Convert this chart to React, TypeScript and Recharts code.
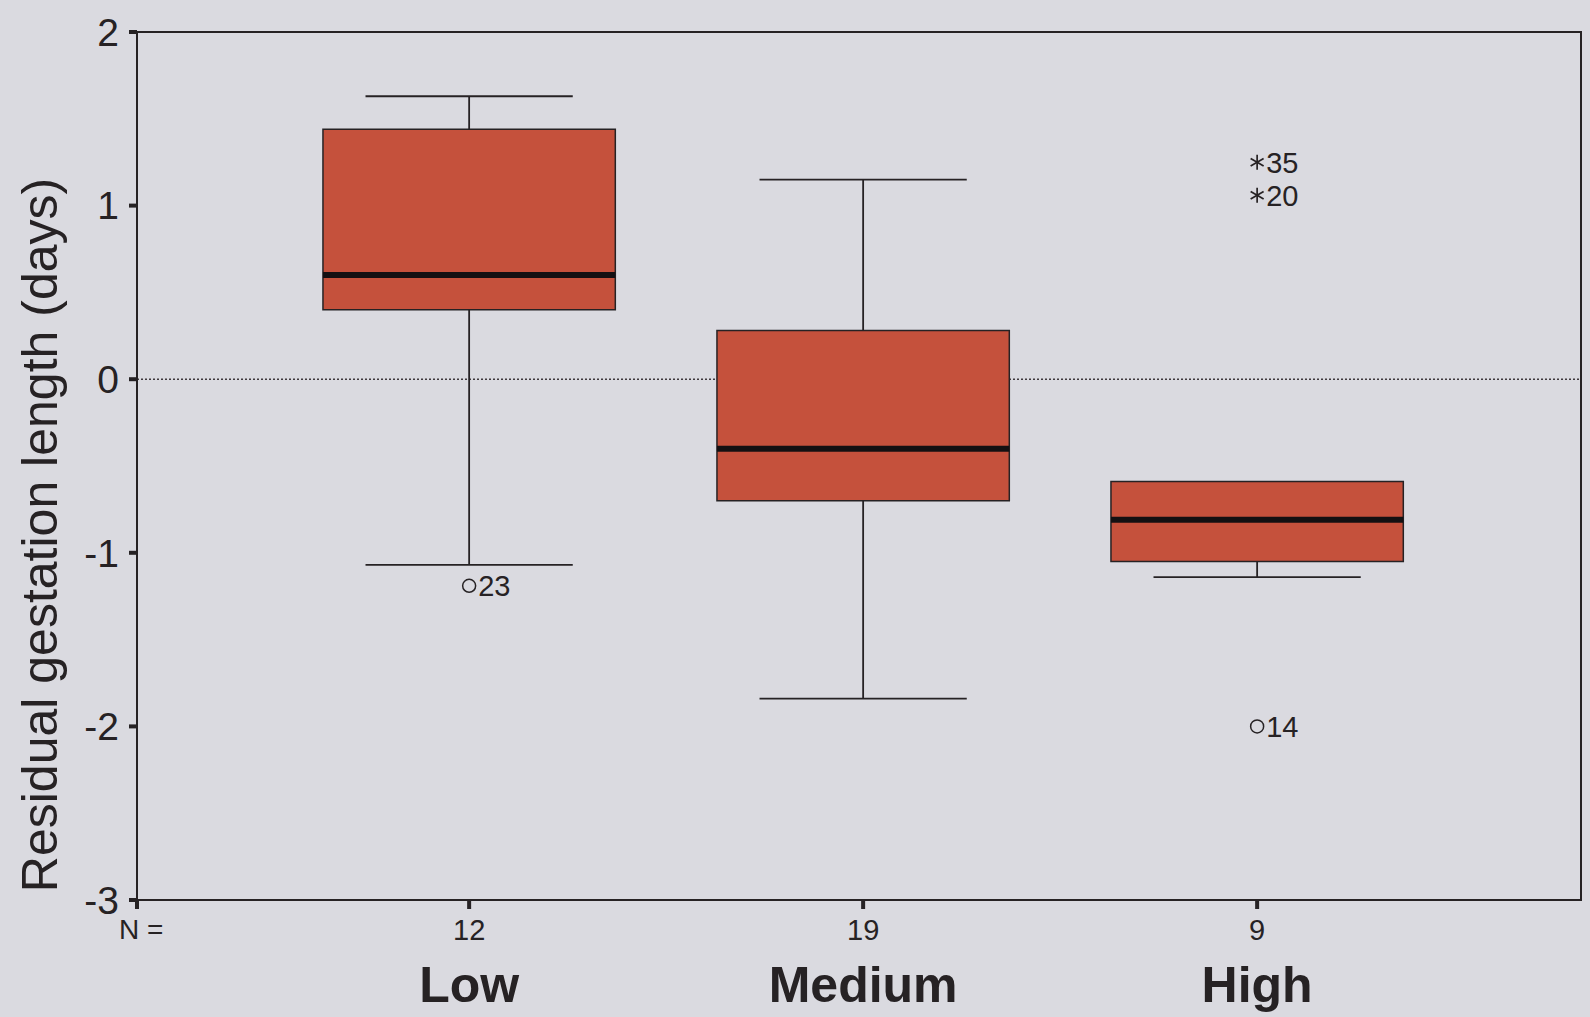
import React from 'react';
import { ComposedChart, XAxis, YAxis, ReferenceArea, ReferenceLine, Scatter } from 'recharts';

// ---- data ----
const categories = ['Low', 'Medium', 'High'];
const groupCounts = [12, 19, 9];
const upperWhisker = [1.63, 1.15, -0.59];
const upperQuartile = [1.44, 0.28, -0.59];
const medians = [0.6, -0.4, -0.81];
const lowerQuartile = [0.4, -0.7, -1.05];
const lowerWhisker = [-1.07, -1.84, -1.14];

const outlierGroup = [1, 3, 3, 3];
const outlierValue = [-1.19, 1.25, 1.06, -2.0];
const outlierCase = ['23', '35', '20', '14'];
const outlierKind = ['circle', 'star', 'star', 'circle'];

const yTicks = [-3, -2, -1, 0, 1, 2];
const X_MIN = 0.157;
const X_MAX = 3.822;
const xTicks = [X_MIN, 1, 2, 3];

// ---- styles ----
const FONT = "'Liberation Sans', Arial, sans-serif";
const INK = '#262224';
const BOX_FILL = '#c5513c';
const BG = '#dadae0';
const BOX_HALF = 0.371;
const CAP_HALF = 0.263;

const outlierData = outlierGroup.map((g, i) => ({
  x: g,
  y: outlierValue[i],
  label: outlierCase[i],
  kind: outlierKind[i],
}));

const OutlierShape = (props: any) => {
  const { cx, cy, payload } = props;
  if (cx == null || cy == null) return null;
  const r = 7.5;
  const a = Math.cos(Math.PI / 6) * r;
  const b = Math.sin(Math.PI / 6) * r;
  return (
    <g>
      {payload.kind === 'circle' ? (
        <circle cx={cx} cy={cy} r={6.5} fill="none" stroke={INK} strokeWidth={1.5} />
      ) : (
        <g stroke={INK} strokeWidth={1.7}>
          <line x1={cx} y1={cy - r} x2={cx} y2={cy + r} />
          <line x1={cx - a} y1={cy - b} x2={cx + a} y2={cy + b} />
          <line x1={cx - a} y1={cy + b} x2={cx + a} y2={cy - b} />
        </g>
      )}
      <text x={cx + 9} y={cy} dy="0.36em" fontSize={29} fill={INK} fontFamily={FONT}>
        {payload.label}
      </text>
    </g>
  );
};

const XTick = (props: any) => {
  const { x, y, payload } = props;
  const v = payload.value;
  if (v < 0.5) {
    return (
      <text x={x - 18} y={y + 28} fontSize={28} fill={INK} fontFamily={FONT}>
        N =
      </text>
    );
  }
  const i = Math.round(v) - 1;
  return (
    <g>
      <text x={x} y={y + 29} textAnchor="middle" fontSize={29} fill={INK} fontFamily={FONT}>
        {groupCounts[i]}
      </text>
      <text x={x} y={y + 91} textAnchor="middle" fontSize={50} fontWeight="bold" fill={INK} fontFamily={FONT}>
        {categories[i]}
      </text>
    </g>
  );
};

const YLabel = () => (
  <text
    x={40}
    y={535}
    transform="rotate(-90 40 535)"
    textAnchor="middle"
    dominantBaseline="central"
    fontSize={50}
    fill={INK}
    fontFamily={FONT}
  >
    Residual gestation length (days)
  </text>
);

export default function App() {
  return (
    <div style={{ position: 'absolute', left: 0, top: 0, width: 1590, height: 1017, background: BG }}>
      <ComposedChart width={1590} height={1017} margin={{ top: 32, right: 9, bottom: 0, left: 0 }}>
        <XAxis
          type="number"
          dataKey="x"
          domain={[X_MIN, X_MAX]}
          ticks={xTicks}
          allowDataOverflow
          height={117}
          axisLine={{ stroke: INK, strokeWidth: 2 }}
          tickLine={{ stroke: INK, strokeWidth: 4 }}
          tickSize={9}
          tickMargin={2}
          tick={<XTick />}
          interval={0}
        />
        <YAxis
          type="number"
          dataKey="y"
          domain={[-3, 2]}
          ticks={yTicks}
          allowDataOverflow
          width={137}
          axisLine={{ stroke: INK, strokeWidth: 2 }}
          tickLine={{ stroke: INK, strokeWidth: 4 }}
          tickSize={8}
          tickMargin={10}
          tick={{ fontSize: 39, fill: INK, fontFamily: FONT }}
          interval={0}
          label={{ content: () => <YLabel /> }}
        />

        <ReferenceLine
          y={0}
          stroke="#3e383c"
          strokeWidth={1.5}
          strokeDasharray="2 2"
          zIndex={50}
          ifOverflow="visible"
        />

        {categories.map((c, i) => (
          <ReferenceArea
            key={'box-' + c}
            x1={i + 1 - BOX_HALF}
            x2={i + 1 + BOX_HALF}
            y1={lowerQuartile[i]}
            y2={upperQuartile[i]}
            fill={BOX_FILL}
            fillOpacity={1}
            stroke={INK}
            strokeWidth={1.5}
            zIndex={100}
            ifOverflow="visible"
          />
        ))}

        {categories.map((c, i) =>
          upperWhisker[i] > upperQuartile[i] ? (
            <ReferenceLine
              key={'uw-' + c}
              segment={[
                { x: i + 1, y: upperQuartile[i] },
                { x: i + 1, y: upperWhisker[i] },
              ]}
              stroke={INK}
              strokeWidth={1.8}
              zIndex={200}
              ifOverflow="visible"
            />
          ) : null
        )}
        {categories.map((c, i) =>
          upperWhisker[i] > upperQuartile[i] ? (
            <ReferenceLine
              key={'uc-' + c}
              segment={[
                { x: i + 1 - CAP_HALF, y: upperWhisker[i] },
                { x: i + 1 + CAP_HALF, y: upperWhisker[i] },
              ]}
              stroke={INK}
              strokeWidth={1.8}
              zIndex={200}
              ifOverflow="visible"
            />
          ) : null
        )}
        {categories.map((c, i) => (
          <ReferenceLine
            key={'lw-' + c}
            segment={[
              { x: i + 1, y: lowerQuartile[i] },
              { x: i + 1, y: lowerWhisker[i] },
            ]}
            stroke={INK}
            strokeWidth={1.8}
            zIndex={200}
            ifOverflow="visible"
          />
        ))}
        {categories.map((c, i) => (
          <ReferenceLine
            key={'lc-' + c}
            segment={[
              { x: i + 1 - CAP_HALF, y: lowerWhisker[i] },
              { x: i + 1 + CAP_HALF, y: lowerWhisker[i] },
            ]}
            stroke={INK}
            strokeWidth={1.8}
            zIndex={200}
            ifOverflow="visible"
          />
        ))}
        {categories.map((c, i) => (
          <ReferenceLine
            key={'med-' + c}
            segment={[
              { x: i + 1 - BOX_HALF, y: medians[i] },
              { x: i + 1 + BOX_HALF, y: medians[i] },
            ]}
            stroke="#141012"
            strokeWidth={6}
            zIndex={250}
            ifOverflow="visible"
          />
        ))}

        <ReferenceArea
          x1={X_MIN}
          x2={X_MAX}
          y1={-3}
          y2={2}
          fill="none"
          stroke={INK}
          strokeWidth={2}
          zIndex={300}
          ifOverflow="visible"
        />

        <Scatter data={outlierData} dataKey="y" shape={<OutlierShape />} isAnimationActive={false} />
      </ComposedChart>
    </div>
  );
}
